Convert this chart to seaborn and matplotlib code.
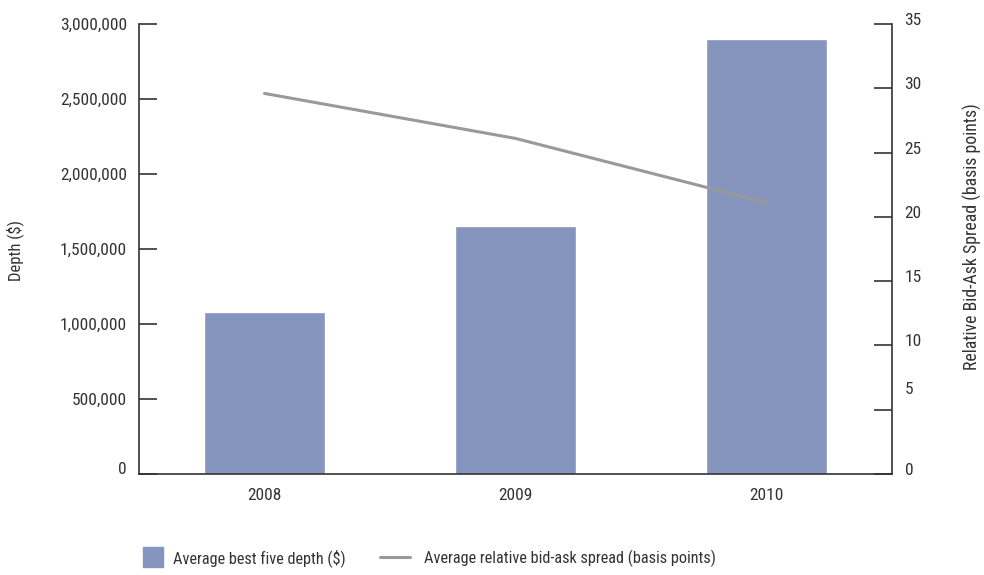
import matplotlib
matplotlib.use("Agg")
import matplotlib.pyplot as plt
import matplotlib.transforms as mtransforms
from matplotlib.lines import Line2D
import numpy as np
import pandas as pd
import seaborn as sns

# Market quality by year
years = ["2008", "2009", "2010"]
depth = [1080000, 1650000, 2900000]          # average best five depth ($)
spread = [29.6, 26.1, 21.1]                  # relative bid-ask spread (bp)
depth_ticks = [0, 500000, 1000000, 1500000, 2000000, 2500000, 3000000]
spread_ticks = [0, 5, 10, 15, 20, 25, 30, 35]

bar_color = "#8695BD"
line_color = "#999999"
ink = "#333333"
fs = 12.5
legend_fs = 11.7

sns.set_style("white")
plt.rcParams["font.family"] = ["Roboto Condensed", "DejaVu Sans"]
plt.rcParams["font.size"] = fs

df = pd.DataFrame({"year": years, "depth": depth, "spread": spread})

fig = plt.figure(figsize=(9.84, 5.75), dpi=100)
ax = fig.add_axes([139 / 984, 1 - 474 / 575, 753 / 984, 450 / 575])

sns.barplot(data=df, x="year", y="depth", color=bar_color, width=0.48,
            saturation=1, ax=ax)
ax.set_xlim(-0.5, 2.5)
ax.set_ylim(0, 3000000)
ax.set_yticks(depth_ticks)
ax.set_yticklabels([f"{v:,.0f}" for v in depth_ticks])
ax.set_xlabel("")
ax.set_ylabel("Depth ($)", color=ink, fontsize=12)
ax.yaxis.set_label_coords(-0.1527, 0.496)

ax2 = ax.twinx()
sns.lineplot(x=np.arange(len(years)), y=df["spread"], color=line_color,
             linewidth=2.2, ax=ax2)
ax2.set_ylim(0, 35)
ax2.set_yticks(spread_ticks)
ax2.set_yticklabels([str(v) for v in spread_ticks])
ax2.set_ylabel("Relative Bid-Ask Spread (basis points)", color=ink,
               fontsize=12.8, rotation=90)
ax2.yaxis.set_label_coords(1.0943, 0.528)

for a in (ax, ax2):
    for s in a.spines.values():
        s.set_visible(False)
    a.grid(False)

ax.spines["left"].set_visible(True)
ax.spines["bottom"].set_visible(True)
ax2.spines["right"].set_visible(True)
for s in (ax.spines["left"], ax.spines["bottom"], ax2.spines["right"]):
    s.set_color(ink)
    s.set_linewidth(1.2)

ax.tick_params(axis="y", direction="in", length=13, width=1.2, color=ink,
               labelcolor=ink, pad=8.6, labelsize=fs)
ax.tick_params(axis="x", length=0, labelcolor=ink, pad=10, labelsize=fs)
ax2.tick_params(axis="y", direction="in", length=13, width=1.2, color=ink,
                labelcolor=ink, pad=9, labelsize=fs)

# Nudge tick labels that sit above their ticks
def nudge(label, dy_px):
    off = mtransforms.ScaledTranslation(0, dy_px / 100, fig.dpi_scale_trans)
    label.set_transform(label.get_transform() + off)

for lab in ax.get_yticklabels():
    if lab.get_text() == "0":
        nudge(lab, 6)
for lab in ax2.get_yticklabels():
    nudge(lab, 22 if lab.get_text() == "5" else 5)

# Legend entries along the bottom, each placed on its own
bar_handle = Line2D([], [], marker="s", linestyle="none", markersize=13.7,
                    markerfacecolor=bar_color, markeredgecolor=bar_color)
line_handle = Line2D([], [], color=line_color, linewidth=2.2)
common = dict(loc="center left", frameon=False, borderpad=0, borderaxespad=0,
              fontsize=legend_fs, labelcolor=ink)
fig.legend([bar_handle], ["Average best five depth ($)"],
           bbox_to_anchor=(143 / 984, 1 - 558 / 575),
           handlelength=1.2, handletextpad=0.62, **common)
fig.legend([line_handle], ["Average relative bid-ask spread (basis points)"],
           bbox_to_anchor=(380 / 984, 1 - 558 / 575),
           handlelength=1.85, handletextpad=0.86, **common)

fig.savefig("out.png", dpi=100)
